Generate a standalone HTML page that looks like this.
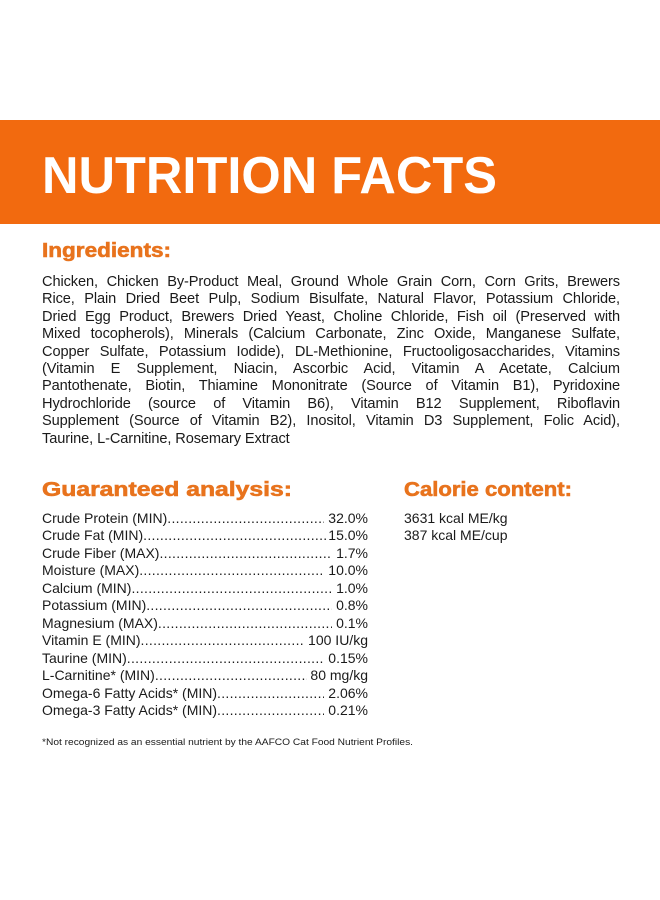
<!DOCTYPE html>
<html><head><meta charset="utf-8"><style>
body{margin:0;width:660px;height:900px;background:#fff;position:relative;overflow:hidden;font-family:"Liberation Sans",sans-serif;color:#1a1a1a}
.band{position:absolute;left:0;top:120px;width:660px;height:104px;background:#f26a0f}
.l{position:absolute;left:42px;width:578px;font-size:14.6px;line-height:17px;text-align:justify;text-align-last:justify;white-space:nowrap;letter-spacing:-0.1px}
.r{position:absolute;left:42px;width:326px;font-size:14px;line-height:17px;display:flex;white-space:nowrap}
.r .d{flex:1;overflow:hidden;letter-spacing:0.3px}
.r .d::before{content:"....................................................................................................................";}
.c{position:absolute;left:404px;font-size:14px;line-height:17px}
</style></head><body>
<div class="band"></div>
<svg width="660" height="900" style="position:absolute;left:0;top:0">
<text x="42" y="193" font-family="Liberation Sans" font-weight="bold" font-size="52" fill="#fff" textLength="455" lengthAdjust="spacingAndGlyphs">NUTRITION FACTS</text>
<text x="42" y="257" font-family="Liberation Sans" font-weight="bold" font-size="20" fill="#e8731d" stroke="#e8731d" stroke-width="0.6" textLength="129" lengthAdjust="spacingAndGlyphs">Ingredients:</text>
<text x="42" y="496" font-family="Liberation Sans" font-weight="bold" font-size="20" fill="#e8731d" stroke="#e8731d" stroke-width="0.6" textLength="250" lengthAdjust="spacingAndGlyphs">Guaranteed analysis:</text>
<text x="404" y="496" font-family="Liberation Sans" font-weight="bold" font-size="20" fill="#e8731d" stroke="#e8731d" stroke-width="0.6" textLength="168" lengthAdjust="spacingAndGlyphs">Calorie content:</text>
<text x="42" y="745" font-family="Liberation Sans" font-size="9" fill="#1a1a1a" textLength="371" lengthAdjust="spacingAndGlyphs">*Not recognized as an essential nutrient by the AAFCO Cat Food Nutrient Profiles.</text>
</svg>
<div class="l" style="top:274px">Chicken, Chicken By-Product Meal, Ground Whole Grain Corn, Corn Grits, Brewers</div>
<div class="l" style="top:291px">Rice, Plain Dried Beet Pulp, Sodium Bisulfate, Natural Flavor, Potassium Chloride,</div>
<div class="l" style="top:309px">Dried Egg Product, Brewers Dried Yeast, Choline Chloride, Fish oil (Preserved with</div>
<div class="l" style="top:326px">Mixed tocopherols), Minerals (Calcium Carbonate, Zinc Oxide, Manganese Sulfate,</div>
<div class="l" style="top:344px">Copper Sulfate, Potassium Iodide), DL-Methionine, Fructooligosaccharides, Vitamins</div>
<div class="l" style="top:361px">(Vitamin E Supplement, Niacin, Ascorbic Acid, Vitamin A Acetate, Calcium</div>
<div class="l" style="top:378px">Pantothenate, Biotin, Thiamine Mononitrate (Source of Vitamin B1), Pyridoxine</div>
<div class="l" style="top:396px">Hydrochloride (source of Vitamin B6), Vitamin B12 Supplement, Riboflavin</div>
<div class="l" style="top:413px">Supplement (Source of Vitamin B2), Inositol, Vitamin D3 Supplement, Folic Acid),</div>
<div class="l" style="top:431px;text-align-last:left">Taurine, L-Carnitine, Rosemary Extract</div>

<div class="r" style="top:510px"><span>Crude Protein (MIN)</span><span class="d"></span><span>&nbsp;32.0%</span></div>
<div class="r" style="top:527px"><span>Crude Fat (MIN)</span><span class="d"></span><span>15.0%</span></div>
<div class="r" style="top:545px"><span>Crude Fiber (MAX)</span><span class="d"></span><span>&nbsp;1.7%</span></div>
<div class="r" style="top:562px"><span>Moisture (MAX)</span><span class="d"></span><span>&nbsp;10.0%</span></div>
<div class="r" style="top:580px"><span>Calcium (MIN)</span><span class="d"></span><span>&nbsp;1.0%</span></div>
<div class="r" style="top:597px"><span>Potassium (MIN)</span><span class="d"></span><span>&nbsp;0.8%</span></div>
<div class="r" style="top:615px"><span>Magnesium (MAX)</span><span class="d"></span><span>&nbsp;0.1%</span></div>
<div class="r" style="top:632px"><span>Vitamin E (MIN)</span><span class="d"></span><span>&nbsp;100 IU/kg</span></div>
<div class="r" style="top:650px"><span>Taurine (MIN)</span><span class="d"></span><span>&nbsp;0.15%</span></div>
<div class="r" style="top:667px"><span>L-Carnitine* (MIN)</span><span class="d"></span><span>&nbsp;80 mg/kg</span></div>
<div class="r" style="top:685px"><span>Omega-6 Fatty Acids* (MIN)</span><span class="d"></span><span>&nbsp;2.06%</span></div>
<div class="r" style="top:702px"><span>Omega-3 Fatty Acids* (MIN)</span><span class="d"></span><span>&nbsp;0.21%</span></div>

<div class="c" style="top:510px">3631 kcal ME/kg</div>
<div class="c" style="top:527px">387 kcal ME/cup</div>
</body></html>
